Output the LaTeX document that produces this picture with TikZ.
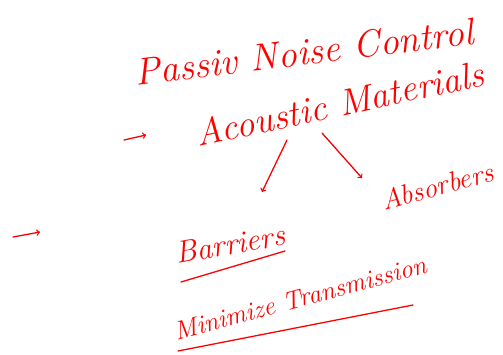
\documentclass[tikz,border=0pt]{standalone}
\usepackage{tikz}
\usetikzlibrary{arrows}

\begin{document}
\begin{tikzpicture}[x=1pt,y=-1pt,
  pen/.style={red, line width=1.3pt, line cap=round},
  hand/.style={text=red, font=\itshape\fontsize{#1}{#1}\selectfont, inner sep=0pt}]
\useasboundingbox (0,0) rectangle (503,354);
\node (P) [hand=38, rotate=7] at (304,52) {Passiv Noise Control};
\node (A) [hand=37, rotate=12] at (340,103) {Acoustic Materials};
\node (S) [hand=28, rotate=15] at (437,186) {Absorbers};
\node (B) [hand=31, rotate=10] at (230,244) {Barriers};
\node (M) [hand=26, rotate=15] at (300,298) {Minimize Transmission};

\coordinate (a1) at (124,140);
\coordinate (a2) at (146,135);
\coordinate (b1) at (287,140);
\coordinate (b2) at (262,192);
\coordinate (s1) at (322,133);
\coordinate (s2) at (362,178);
\coordinate (c1) at (13,237);
\coordinate (c2) at (40,232);

\draw[pen, ->] (a1) -- (a2);
\draw[pen, ->] (b1) -- (b2);
\draw[pen, ->] (s1) -- (s2);
\draw[pen, ->] (c1) -- (c2);

% underlines
\draw[pen] (181,282) -- (285,251);
\draw[pen] (178,351) -- (413,305);
\end{tikzpicture}
\end{document}
